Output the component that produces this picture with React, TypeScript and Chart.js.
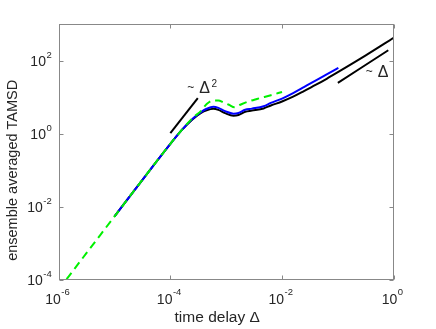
import React, { useEffect, useRef } from "react";
import { Chart, registerables } from "chart.js";

Chart.register(...registerables);

// ---- data ----
const greenX = [1e-6, 3.16e-6, 1e-5, 3.16e-5, 1e-4, 1.58e-4, 2.51e-4, 3.55e-4, 4.47e-4, 5.89e-4, 7.24e-4, 8.9e-4, 1.12e-3, 1.41e-3, 1.78e-3, 2.4e-3, 3.55e-3, 6.3e-3, 1e-2];
const greenY = [5.6e-5, 5.6e-4, 5.6e-3, 0.056, 0.54, 1.26, 2.75, 4.3, 6.6, 8.3, 8.3, 7.3, 6.3, 5.4, 6.3, 7.6, 9.1, 11.5, 14.1];

const blueX = [1e-5, 3.16e-5, 1e-4, 1.58e-4, 2.51e-4, 3.55e-4, 4.47e-4, 5.89e-4, 7.24e-4, 9.55e-4, 1.35e-3, 1.66e-3, 2.19e-3, 2.88e-3, 4.68e-3, 6.3e-3, 1e-2, 1.58e-2, 2.51e-2, 3.98e-2, 6.3e-2, 0.102];
const blueY = [5.6e-3, 0.056, 0.54, 1.26, 2.63, 3.98, 4.9, 5.56, 5.19, 4.22, 3.6, 3.76, 4.62, 4.95, 5.75, 7.08, 9.33, 13.2, 19.5, 28.8, 42.7, 64.6];

const blackX = [1e-5, 3.16e-5, 1e-4, 1.58e-4, 2.51e-4, 3.55e-4, 4.47e-4, 5.89e-4, 7.24e-4, 9.55e-4, 1.35e-3, 1.66e-3, 2.19e-3, 2.88e-3, 4.68e-3, 6.3e-3, 1e-2, 1.58e-2, 2.51e-2, 3.98e-2, 6.3e-2, 0.1, 0.316, 1];
const blackY = [5.6e-3, 0.056, 0.54, 1.26, 2.55, 3.8, 4.47, 4.9, 4.57, 3.72, 3.16, 3.31, 4.07, 4.37, 5.0, 6.03, 7.76, 10.5, 15.1, 21.9, 32.4, 49, 141, 427];

const fit2X = [1e-4, 3.1e-4];
const fit2Y = [1.05, 9.6];
const fit1X = [0.1, 0.8];
const fit1Y = [25, 195];

const xTicks = [1e-6, 1e-4, 1e-2, 1];
const xTickExp = ["-6", "-4", "-2", "0"];
const yTicks = [1e-4, 1e-2, 1, 1e2];
const yTickExp = ["-4", "-2", "0", "2"];

const xTitle = "time delay Δ";
const yTitle = "ensemble averaged TAMSD";

const FONT = "'Liberation Sans', Arial, Helvetica, sans-serif";
const TEXT = "#262626";
const AXIS = "#888888";

const pts = (xs: number[], ys: number[]) => xs.map((x, i) => ({ x, y: ys[i] }));

const framePlugin = {
  id: "frame",
  afterDraw(chart: any) {
    const ctx = chart.ctx as CanvasRenderingContext2D;
    const a = chart.chartArea;
    const xs = chart.scales.x;
    const ys = chart.scales.y;
    ctx.save();
    // box
    ctx.strokeStyle = AXIS;
    ctx.lineWidth = 1;
    const L = Math.round(a.left) + 0.5;
    const R = Math.round(a.right) - 0.5;
    const T = Math.round(a.top) + 0.5;
    const B = Math.round(a.bottom) - 0.5;
    ctx.strokeRect(L, T, R - L, B - T);
    const tl = 4;
    ctx.beginPath();
    xTicks.forEach((v) => {
      const p = Math.round(xs.getPixelForValue(v)) + 0.5;
      ctx.moveTo(p, B); ctx.lineTo(p, B - tl);
      ctx.moveTo(p, T); ctx.lineTo(p, T + tl);
    });
    yTicks.forEach((v) => {
      const p = Math.round(ys.getPixelForValue(v)) + 0.5;
      ctx.moveTo(L, p); ctx.lineTo(L + tl, p);
      ctx.moveTo(R, p); ctx.lineTo(R - tl, p);
    });
    ctx.stroke();

    // tick labels
    ctx.fillStyle = TEXT;
    ctx.textBaseline = "alphabetic";
    const big = `14px ${FONT}`;
    const small = `9.5px ${FONT}`;
    xTicks.forEach((v, i) => {
      const p = xs.getPixelForValue(v);
      ctx.font = big;
      const w1 = ctx.measureText("10").width;
      ctx.font = small;
      const w2 = ctx.measureText(xTickExp[i]).width;
      const start = p - (w1 + w2) / 2 - 1.5;
      ctx.font = big;
      ctx.textAlign = "left";
      ctx.fillText("10", start, a.bottom + 23.5);
      ctx.font = small;
      ctx.fillText(xTickExp[i], start + w1 + 0.5, a.bottom + 15);
    });
    yTicks.forEach((v, i) => {
      const p = ys.getPixelForValue(v);
      ctx.font = small;
      const w2 = ctx.measureText(yTickExp[i]).width;
      const end = a.left - 7;
      ctx.textAlign = "left";
      ctx.fillText(yTickExp[i], end - w2, p - 3);
      ctx.font = big;
      ctx.textAlign = "right";
      ctx.fillText("10", end - w2 - 0.5, p + 5);
    });

    // axis titles
    ctx.font = `15.5px ${FONT}`;
    ctx.textAlign = "center";
    ctx.fillText(xTitle, (a.left + a.right) / 2 - 9, a.bottom + 42);
    ctx.save();
    ctx.translate(17, (a.top + a.bottom) / 2 + 18);
    ctx.rotate(-Math.PI / 2);
    ctx.textAlign = "center";
    ctx.font = `14.5px ${FONT}`;
    ctx.fillText(yTitle, 0, 0);
    ctx.restore();

    // slope annotations
    const ann = (xv: number, yv: number, sup: string | null) => {
      const px = xs.getPixelForValue(xv);
      const py = ys.getPixelForValue(yv);
      ctx.textAlign = "left";
      ctx.font = `12px ${FONT}`;
      ctx.fillText("~", px - 12, py - 2.5);
      ctx.font = `16px ${FONT}`;
      ctx.fillText("Δ", px, py);
      const w = ctx.measureText("Δ").width;
      if (sup) {
        ctx.font = `10px ${FONT}`;
        ctx.fillText(sup, px + w + 1.5, py - 6.5);
      }
    };
    ann(3.3e-4, 13, "2");
    ann(0.52, 35.6, null);
    ctx.restore();
  },
};

export default function App() {
  const ref = useRef<HTMLCanvasElement | null>(null);
  useEffect(() => {
    if (!ref.current) return;
    const common = { pointRadius: 0, borderWidth: 2, fill: false, cubicInterpolationMode: "monotone" as const };
    const chart = new Chart(ref.current, {
      type: "line",
      data: {
        datasets: [
          { ...common, label: "green", data: pts(greenX, greenY), borderColor: "#00f000", borderDash: [8, 5], order: 0 },
          { ...common, label: "blue", data: pts(blueX, blueY), borderColor: "#0000ff", order: 1 },
          { ...common, label: "black", data: pts(blackX, blackY), borderColor: "#000000", order: 2 },
          { ...common, label: "fit2", data: pts(fit2X, fit2Y), borderColor: "#000000", order: 3 },
          { ...common, label: "fit1", data: pts(fit1X, fit1Y), borderColor: "#000000", order: 4 },
        ],
      },
      options: {
        responsive: false,
        maintainAspectRatio: false,
        animation: false,
        parsing: true,
        layout: { padding: { left: 58.7, right: 42.3, top: 24.3, bottom: 48.7 } },
        plugins: { legend: { display: false }, tooltip: { enabled: false } },
        scales: {
          x: { type: "logarithmic", min: 1e-6, max: 1, display: false },
          y: { type: "logarithmic", min: 1e-4, max: 1000, display: false },
        },
      },
      plugins: [framePlugin],
    });
    return () => chart.destroy();
  }, []);
  return (
    <div style={{ position: "absolute", left: 0, top: 0, width: 436, height: 329, background: "#fff" }}>
      <canvas ref={ref} width={436} height={329} style={{ display: "block", width: 436, height: 329 }} />
    </div>
  );
}
